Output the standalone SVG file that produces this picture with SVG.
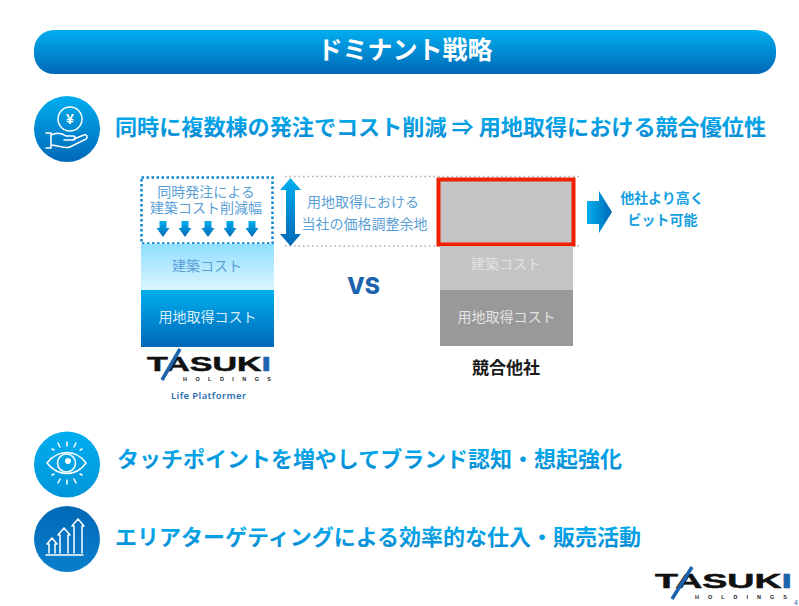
<svg xmlns="http://www.w3.org/2000/svg" width="799" height="606" viewBox="0 0 799 606">
<defs>
<linearGradient id="v" x1="0" y1="0" x2="0" y2="1"><stop offset="0" stop-color="#00aeef"/><stop offset="1" stop-color="#0068b7"/></linearGradient>
<linearGradient id="h" x1="0" y1="0" x2="1" y2="0"><stop offset="0" stop-color="#00aeef"/><stop offset="1" stop-color="#0068b7"/></linearGradient>
<linearGradient id="pale" x1="0" y1="0" x2="0" y2="1"><stop offset="0" stop-color="#8fdfff"/><stop offset="1" stop-color="#dcf5ff"/></linearGradient>
<linearGradient id="eye" x1="0" y1="0" x2="0" y2="1"><stop offset="0" stop-color="#00aeef"/><stop offset="1" stop-color="#0095da"/></linearGradient>
<linearGradient id="chart" x1="0" y1="0" x2="0" y2="1"><stop offset="0" stop-color="#0068b7"/><stop offset="1" stop-color="#0a7fcb"/></linearGradient>
<linearGradient id="headg" x1="0" y1="0" x2="0" y2="1"><stop offset="0.150" stop-color="#00aeef"/><stop offset="0.850" stop-color="#0a8ed6"/></linearGradient>
<path id="down" d="M-3.500-8H3.500V-1H6.500L0 8L-6.500-1H-3.500Z" fill="url(#v)"/>
</defs>
<style>
text{font-family:"Noto Sans CJK JP","Noto Sans",sans-serif;text-anchor:middle}
.head{font-size:21.500px;font-weight:700;fill:url(#headg);text-anchor:start}
.small{font-size:14px;fill:#5b9fd6}
.light{font-size:14px;fill:#d9eefb}
.grey{font-size:14px;fill:#e2e2e2}
.bid{font-size:14px;font-weight:700;fill:#189fe2}
.ic{fill:none;stroke:#fff;stroke-width:1.500;stroke-linecap:round;stroke-linejoin:round}
.dots{fill:none;stroke:#aaa;stroke-width:1.500;stroke-dasharray:1.500 3}
.logo{font-family:"Liberation Sans",sans-serif;font-weight:700;fill:#111;text-anchor:start}
.sub{font-family:"Liberation Sans",sans-serif;font-weight:700;fill:#222;text-anchor:start}
</style>
<rect width="799" height="606" fill="#fff"/>

<g id="title">
<rect x="34" y="30" width="742" height="44" rx="20" fill="url(#v)"/>
<text x="405" y="59" font-size="25" font-weight="700" fill="#fff">ドミナント戦略</text>
</g>

<g id="point1">
<circle cx="67" cy="129" r="33" fill="url(#v)"/>
<circle class="ic" cx="70" cy="119" r="12"/>
<text x="70" y="124" font-size="14" font-weight="700" fill="#fff" style="font-family:'Liberation Sans',sans-serif">¥</text>
<path class="ic" d="M46 133H51V148H46M51 135C57 132 62 133 66 136H73C76 136 76 140 73 140H64M74 139L84 135C87 134 88 137 86 139L70 147C66 149 60 146 51 145"/>
<text class="head" x="115" y="135" textLength="651" lengthAdjust="spacingAndGlyphs">同時に複数棟の発注でコスト削減 ⇒ 用地取得における競合優位性</text>
</g>

<g id="connectors">
<path class="dots" d="M285 176.500H582M285 246H582"/>
<path d="M290.500 178L301 190H295V234H301L290.500 246L280 234H286V190H280Z" fill="url(#v)"/>
<path d="M587 201H599V191L612 212L599 233V224H587Z" fill="url(#h)"/>
</g>

<g id="tasuki-stack">
<rect x="141.500" y="177.500" width="131" height="66" fill="#fff" stroke="#0a86d0" stroke-width="2.500" stroke-dasharray="2.500 2.500"/>
<text class="small"><tspan x="206" y="196.500">同時発注による</tspan><tspan x="206" y="213">建築コスト削減幅</tspan></text>
<use href="#down" x="163" y="229"/><use href="#down" x="185" y="229"/><use href="#down" x="208" y="229"/><use href="#down" x="230" y="229"/><use href="#down" x="252" y="229"/>
<rect x="141" y="244" width="133" height="46" fill="url(#pale)"/>
<text class="small" x="207" y="271">建築コスト</text>
<rect x="141" y="290" width="133" height="57" fill="url(#v)"/>
<text class="light" x="207.500" y="322">用地取得コスト</text>
</g>

<g id="price-margin">
<text class="small" x="363" y="207">用地取得における</text>
<text class="small" x="364.500" y="229">当社の価格調整余地</text>
</g>

<g id="vs"><text x="363.500" y="294" font-size="23" font-weight="800" fill="#1b63ac" style="font-family:Inter,sans-serif">VS</text></g>

<g id="rival-stack">
<rect x="438.500" y="179.500" width="135" height="65" fill="#c4c4c4" stroke="#f02000" stroke-width="4"/>
<rect x="440" y="246" width="133" height="45" fill="#c4c4c4"/>
<text class="grey" x="506" y="269">建築コスト</text>
<rect x="440" y="290" width="133" height="56" fill="#999"/>
<text class="grey" x="506.500" y="322">用地取得コスト</text>
<text x="506" y="374" font-size="17" font-weight="700" fill="#1a1a1a">競合他社</text>
</g>

<g id="bid-note">
<text class="bid" x="662" y="203">他社より高く</text>
<text class="bid" x="662.500" y="225">ビット可能</text>
</g>

<g id="logo-main">
<text class="logo" x="147" y="371" font-size="20" textLength="124" lengthAdjust="spacingAndGlyphs" stroke="#111" stroke-width="0.500">TASUK<tspan fill="#1b63ac" stroke="#1b63ac">I</tspan></text>
<path d="M162 380L180 349" stroke="#1b63ac" stroke-width="3.500" fill="none"/>
<text class="sub" x="183" y="381" font-size="5.500" textLength="88">HOLDINGS</text>
<text x="208.500" y="399" font-size="9.500" font-weight="600" fill="#2c6fb3" style="font-family:'Noto Sans',sans-serif" textLength="75">Life Platformer</text>
</g>

<g id="point2">
<circle cx="67" cy="464.500" r="33" fill="url(#eye)"/>
<path class="ic" d="M47 463C58 449 76 449 86 463C76 477 58 477 47 463Z"/>
<circle class="ic" cx="66.500" cy="463" r="9"/>
<circle cx="68" cy="461" r="3" fill="#fff"/>
<path class="ic" d="M67 442V446M58 443L60 447M76 443L74 447M52 449L54 450M82 449L80 450M67 480V484M58 483L60 479M76 483L74 479M52 475L54 474M82 475L80 474"/>
<text class="head" x="117" y="467" textLength="505" lengthAdjust="spacingAndGlyphs">タッチポイントを増やしてブランド認知・想起強化</text>
</g>

<g id="point3">
<circle cx="67" cy="539" r="33" fill="url(#chart)"/>
<path class="ic" d="M46 555H83M49 553V544H47L52 538L57 544H55V553M60 553V535H58L64 528L70 535H68V553M74 553V526H72L78 519L84 526H82V553"/>
<text class="head" x="115" y="545" textLength="526" lengthAdjust="spacingAndGlyphs">エリアターゲティングによる効率的な仕入・販売活動</text>
</g>

<g id="logo-corner">
<text class="logo" x="655" y="588" font-size="20" textLength="137" lengthAdjust="spacingAndGlyphs" stroke="#111" stroke-width="0.500">TASUK<tspan fill="#1b63ac" stroke="#1b63ac">I</tspan></text>
<path d="M672 599L692 567" stroke="#1b63ac" stroke-width="3.500" fill="none"/>
<text class="sub" x="695" y="599" font-size="5.500" textLength="92">HOLDINGS</text>
<text x="794" y="604.500" font-size="7" fill="#1b63ac" style="font-family:'Liberation Sans',sans-serif;text-anchor:start">4</text>
</g>
</svg>
